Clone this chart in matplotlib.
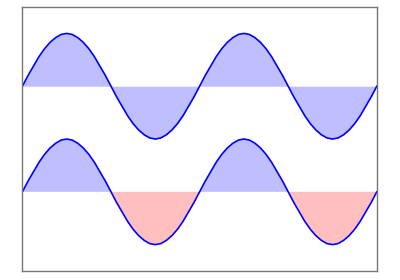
import numpy as np
import matplotlib
matplotlib.use('Agg')
import matplotlib.pyplot as plt

# x positions (two full periods from -pi to pi)
x = np.linspace(-np.pi, np.pi, 65)

# curve values, one per 1/32 period
wave = [0.00, 0.20, 0.38, 0.56, 0.71, 0.83, 0.92, 0.98, 1.00, 0.98, 0.92, 0.83, 0.71, 0.56, 0.38, 0.20,
        0.00, -0.20, -0.38, -0.56, -0.71, -0.83, -0.92, -0.98, -1.00, -0.98, -0.92, -0.83, -0.71, -0.56, -0.38, -0.20,
        0.00, 0.20, 0.38, 0.56, 0.71, 0.83, 0.92, 0.98, 1.00, 0.98, 0.92, 0.83, 0.71, 0.56, 0.38, 0.20,
        0.00, -0.20, -0.38, -0.56, -0.71, -0.83, -0.92, -0.98, -1.00, -0.98, -0.92, -0.83, -0.71, -0.56, -0.38, -0.20,
        0.00]
top_base = 1.0
bottom_base = -1.0

y = np.array(wave)
top = y + top_base
bottom = y + bottom_base

fig = plt.figure(figsize=(4, 2.8), dpi=100)
ax = fig.add_axes([0.056, 0.032, 0.886, 0.943])

ax.plot(x, top, color='blue', lw=1.2)
ax.fill_between(x, top_base, top, color='blue', alpha=0.25, lw=0)

ax.plot(x, bottom, color='blue', lw=1.2)
ax.fill_between(x, bottom_base, bottom, where=bottom >= bottom_base, color='blue', alpha=0.25, lw=0, interpolate=True)
ax.fill_between(x, bottom_base, bottom, where=bottom <= bottom_base, color='red', alpha=0.25, lw=0, interpolate=True)

ax.set_xlim(-np.pi, np.pi)
ax.set_ylim(-2.5, 2.5)
ax.set_xticks([])
ax.set_yticks([])
for s in ax.spines.values():
    s.set_color('#777777')
    s.set_linewidth(1.0)

fig.savefig('out.png', dpi=100)
